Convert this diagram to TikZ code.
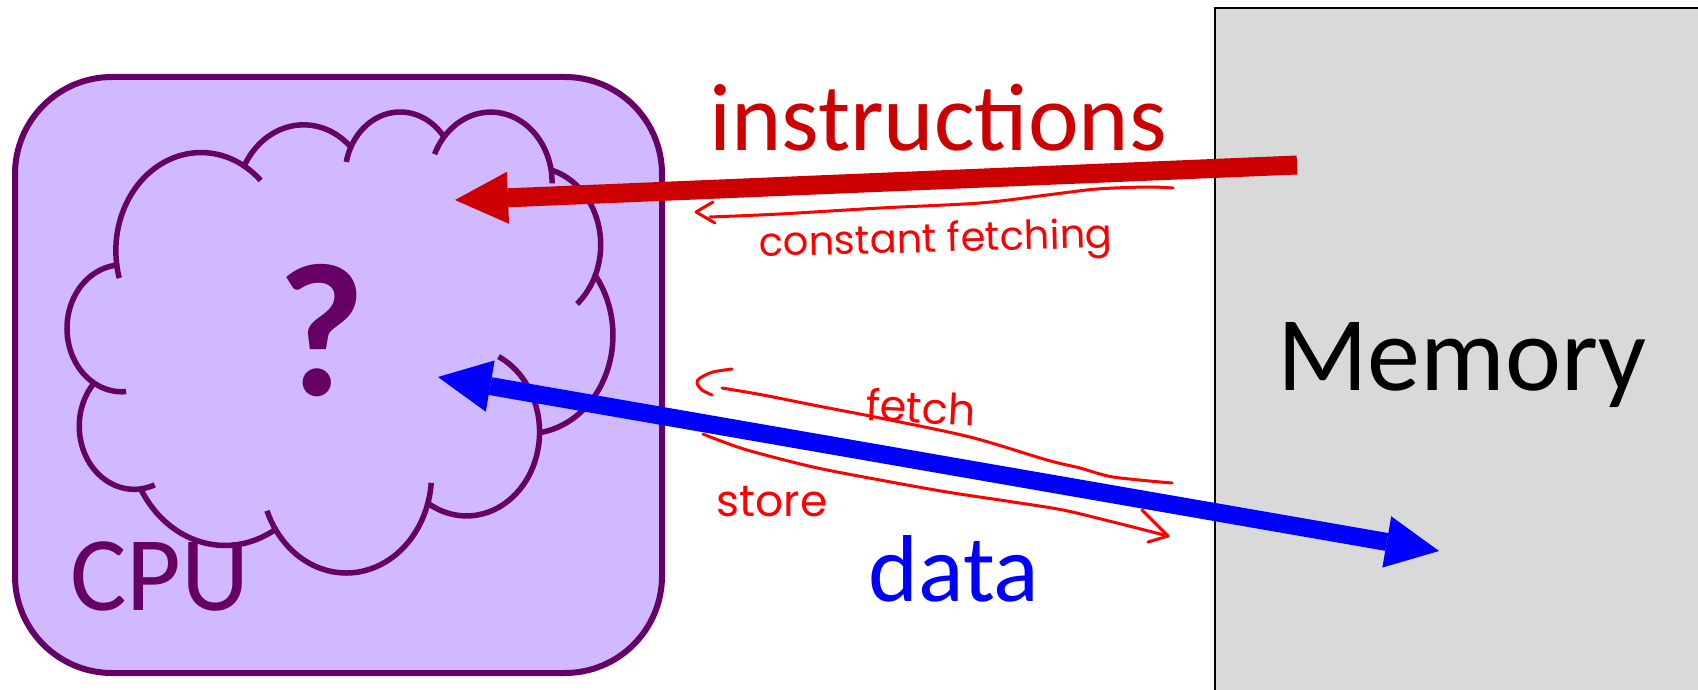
\documentclass[tikz,border=0pt]{standalone}
\usepackage{fontspec}
\setmainfont{Carlito}
\newfontfamily\handfont{Poppins}
\usetikzlibrary{arrows.meta}
\definecolor{cpupurple}{RGB}{102,0,102}
\definecolor{cpufill}{RGB}{208,185,255}
\definecolor{memgray}{RGB}{217,217,217}
\definecolor{insred}{RGB}{204,0,0}
\definecolor{datablue}{RGB}{0,0,255}
\definecolor{inkred}{RGB}{255,0,0}
\tikzset{
  cpubox/.style={draw=cpupurple, line width=6pt, fill=cpufill, rounded corners=97pt,
    minimum width=647pt, minimum height=596pt, inner sep=0pt},
  membox/.style={draw=black, line width=1.8pt, fill=memgray, minimum width=495pt,
    minimum height=692pt, inner sep=0pt},
  cloudline/.style={draw=cpupurple, line width=5.5pt, line join=round},
  insarrow/.style={draw=insred, line width=19pt, -{Triangle[length=53pt,width=52pt,line width=0pt]}},
  dataarrow/.style={draw=datablue, line width=18pt,
    {Triangle[length=53pt,width=52pt,line width=0pt]}-{Triangle[length=53pt,width=52pt,line width=0pt]}},
  ink/.style={draw=inkred, line width=3pt, line cap=round, line join=round},
  label/.style={anchor=base, inner sep=0pt},
  inktext/.style={anchor=base, inner sep=0pt, text=inkred},
}
\begin{document}
\begin{tikzpicture}[x=1pt,y=-1pt]
\useasboundingbox (0,0) rectangle (1698,690);
% Memory
\node[membox] (mem) at (1462.5,354) {};
\node[label, font=\fontsize{106}{120}\selectfont] (memtext) at (1462,390) {Memory};
% CPU
\node[cpubox] (cpu) at (338.5,375) {};
% cloud outline (eleven elliptic bumps)
\begin{scope}[cloudline, samples=40]
\draw plot[domain=-187.75:-59.62] ({201.08+85.24*cos(\x)},{250.56+98.03*sin(\x)})
 -- plot[domain=-152.02:-45.45] ({303.65+67.31*cos(\x)},{202.35+77.52*sin(\x)})
 -- plot[domain=-153.48:-37.32] ({400.17+55.10*cos(\x)},{175.42+63.42*sin(\x)})
 -- plot[domain=-139.72:-10.22] ({490.76+61.31*cos(\x)},{182.46+70.35*sin(\x)})
 -- plot[domain=-74.77:23.21] ({533.4+67.31*cos(\x)},{244.84+77.58*sin(\x)})
 -- plot[domain=-37.53:81.86] ({527.46+85.51*cos(\x)},{335.33+98.35*sin(\x)})
 -- plot[domain=0.46:121.98] ({466.55+73.02*cos(\x)},{432.01+83.92*sin(\x)})
 -- plot[domain=16.85:146.22] ({346.31+85.22*cos(\x)},{474.71+98.30*sin(\x)})
 -- plot[domain=58.97:150.19] ({225.24+97.44*cos(\x)},{433.01+112.46*sin(\x)})
 -- plot[domain=83.31:223.12] ({134.27+55.03*cos(\x)},{426.21+63.13*sin(\x)})
 -- plot[domain=120.36:264.11] ({121.83+54.84*cos(\x)},{328.34+63.42*sin(\x)})
 -- cycle;
% inner tails
\draw plot[domain=-196.3:-187.75] ({201.08+85.24*cos(\x)},{250.56+98.03*sin(\x)});
\draw plot[domain=-59.62:-45.7] ({201.08+85.24*cos(\x)},{250.56+98.03*sin(\x)});
\draw plot[domain=-167.72:-153.48] ({400.17+55.10*cos(\x)},{175.42+63.42*sin(\x)});
\draw plot[domain=-156.29:-139.72] ({490.76+61.31*cos(\x)},{182.46+70.35*sin(\x)});
\draw plot[domain=-10.22:0.83] ({490.76+61.31*cos(\x)},{182.46+70.35*sin(\x)});
\draw plot[domain=23.21:49.64] ({533.4+67.31*cos(\x)},{244.84+77.58*sin(\x)});
\draw plot[domain=-64.02:0.46] ({466.55+73.02*cos(\x)},{432.01+83.92*sin(\x)});
\draw plot[domain=4.73:16.85] ({346.31+85.22*cos(\x)},{474.71+98.30*sin(\x)});
\draw plot[domain=146.22:158.47] ({346.31+85.22*cos(\x)},{474.71+98.30*sin(\x)});
\draw plot[domain=68.23:83.31] ({134.27+55.03*cos(\x)},{426.21+63.13*sin(\x)});
\draw plot[domain=85.54:120.36] ({121.83+54.84*cos(\x)},{328.34+63.42*sin(\x)});
\end{scope}
\node[label, text=cpupurple, font=\fontsize{190}{200}\selectfont\bfseries] (q) at (322,395) {?};
\node[label, text=cpupurple, font=\fontsize{106}{120}\selectfont] (cputext) at (160,610) {CPU};
% labels
\node[label, text=insred, font=\fontsize{96}{110}\selectfont] (instext) at (938,150) {instructions};
\node[label, text=datablue, font=\fontsize{95}{110}\selectfont] (datatext) at (954,601) {data};
% arrows
\coordinate (insSrc) at (1297,165);
\coordinate (insTip) at (455,200);
\draw[insarrow] (insSrc) -- (insTip);
\coordinate (dataL) at (438,377);
\coordinate (dataR) at (1439,551);
\draw[dataarrow] (dataL) -- (dataR);
% handwritten annotations
\draw[ink] plot[smooth,tension=0.5] coordinates {(1173,188) (1147,187) (1097,189) (1047,195) (980,203) (880,208) (780,214) (710,217)};
\draw[ink] (713,202) -- (696,212) -- (715,223);
\node[inktext, font=\handfont\fontsize{40}{44}\selectfont, rotate=1.5] (cftext) at (936,252) {constant fetching};
\draw[ink] plot[smooth,tension=0.5] coordinates {(722,388) (763,395) (813,405) (880,418) (970,437) (1047,460) (1080,468) (1113,477) (1172,483)};
\draw[ink] plot[smooth,tension=0.5] coordinates {(732,369) (713,372) (700,378) (697,383) (702,390) (712,395)};
\node[inktext, font=\handfont\fontsize{43}{46}\selectfont, rotate=-3] (fetchtext) at (920,423) {fetch};
\draw[ink] plot[smooth,tension=0.5] coordinates {(703,434) (713,438) (747,450) (813,467) (880,480) (947,492) (1013,502) (1063,510) (1113,522) (1168,536)};
\draw[ink] (1142,510) -- (1168,536) -- (1148,542);
\node[inktext, font=\handfont\fontsize{44}{48}\selectfont] (storetext) at (772,516) {store};
\end{tikzpicture}
\end{document}
